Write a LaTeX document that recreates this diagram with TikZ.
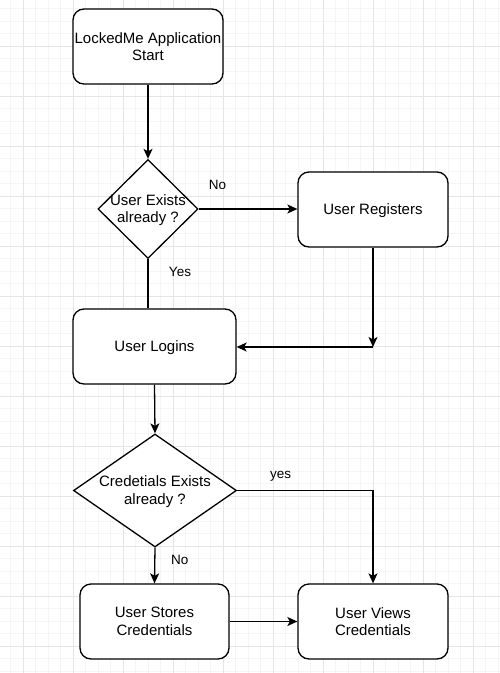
\documentclass[tikz,border=0pt]{standalone}
\usepackage{fontspec}
\setmainfont{Liberation Sans}
\usetikzlibrary{shapes.geometric,arrows.meta}
\definecolor{gridminor}{HTML}{F5F5F5}
\definecolor{gridmajor}{HTML}{E5E5E5}
\tikzset{
  box/.style={draw=black, line width=1.3pt, rounded corners=11pt, fill=white, align=center,
    font=\fontsize{15}{17.5}\selectfont, inner sep=0pt, text depth=0pt},
  dia/.style={draw=black, line width=1.3pt, diamond, fill=white, inner sep=0pt},
  diatext/.style={align=center, font=\fontsize{15}{17.5}\selectfont, inner sep=0pt},
  lbl/.style={font=\fontsize{13.5}{16}\selectfont, inner sep=0pt},
  arr/.style={line width=1.3pt, -{Stealth[length=10pt,width=9pt,inset=2.5pt]}},
  ln/.style={line width=1.3pt},
}
\begin{document}
\begin{tikzpicture}[x=1pt,y=-1pt]
\useasboundingbox (0,0) rectangle (500,673);
\fill[white] (0,0) rectangle (500,673);
% grid
\foreach \i in {0,...,41} {
  \draw[gridminor, line width=1pt] ({-1.7+12.5*\i},0) -- ({-1.7+12.5*\i},673);
}
\foreach \i in {0,...,55} {
  \draw[gridminor, line width=1pt] (0,{-4+12.5*\i}) -- (500,{-4+12.5*\i});
}
\foreach \i in {0,...,9} {
  \draw[gridmajor, line width=1pt] ({23.3+50*\i},0) -- ({23.3+50*\i},673);
}
\foreach \i in {0,...,13} {
  \draw[gridmajor, line width=1pt] (0,{-4+50*\i}) -- (500,{-4+50*\i});
}
% nodes
\node[box, minimum width=150pt, minimum height=75pt] (start) at (148,46.5) {LockedMe Application\\Start};
\node[dia, minimum width=100pt, minimum height=99pt,
  label={[diatext, yshift=-1pt]center:{User Exists\\already ?}}] (d1) at (148,209) {};
\node[box, minimum width=150pt, minimum height=75pt] (reg) at (373,209.5) {User Registers};
\node[box, minimum width=163pt, minimum height=75pt] (login) at (154.5,346.5) {User Logins};
\coordinate (c1) at (373,347);
\node[dia, minimum width=163pt, minimum height=113pt,
  label={[diatext, yshift=-1pt]center:{Credetials Exists\\already ?}}] (d2) at (155,490.5) {};
\node[box, minimum width=149pt, minimum height=75pt] (store) at (154.5,621.5) {User Stores\\Credentials};
\node[box, minimum width=150pt, minimum height=75pt] (view) at (373,621.5) {User Views\\Credentials};
% connectors
\draw[arr] (start) -- (d1.north);
\draw[arr] (d1.east) -- node[lbl, pos=0.19, yshift=24pt] (lno1) {No} (d1.east -| reg.west);
\draw[ln] (d1.south) -- node[lbl, pos=0.25, xshift=32pt] (lyes1) {Yes} (d1.south |- login.north);
\draw[arr] (reg.south) -- (c1);
\draw[arr] (c1) -- (c1 -| login.east);
\draw[arr] (login.south) -- (d2.north);
\draw[arr] (d2.east) -| node[lbl, pos=0.16, yshift=14pt] (lyes2) {yes} (view.north);
\draw[arr] (d2.south) -- node[lbl, pos=0.35, xshift=25pt] (lno2) {No} (store.north);
\draw[arr] (store.east) -- (view.west);
\end{tikzpicture}
\end{document}
